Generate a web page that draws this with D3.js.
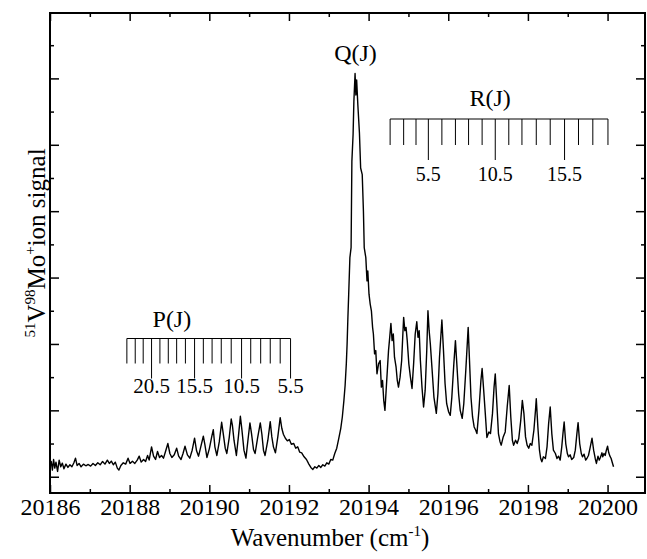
<!DOCTYPE html>
<html>
<head>
<meta charset="utf-8">
<script src="https://cdn.jsdelivr.net/npm/d3@7"></script>
<style>
  body { margin: 0; background: #fff; }
  svg { display: block; font-family: "Liberation Serif", "Times New Roman", serif; }
</style>
</head>
<body>
<div id="chart-area"></div>
<script>
// Axis ticks
const xMajorTicks = [20186, 20188, 20190, 20192, 20194, 20196, 20198, 20200];
const xMinorTicks = [20187, 20189, 20191, 20193, 20195, 20197, 20199];
const yMajorTicks = [0, 2, 4, 6, 8, 10, 12];
const yMinorTicks = [1, 3, 5, 7, 9, 11, 13];

// P branch assignment ruler (J value, line position in cm-1)
const pJ = [23.5, 22.5, 21.5, 20.5, 19.5, 18.5, 17.5, 16.5, 15.5, 14.5, 13.5, 12.5, 11.5, 10.5, 9.5, 8.5, 7.5, 6.5, 5.5];
const pPos = [20187.93, 20188.14, 20188.34, 20188.55, 20188.76, 20188.97, 20189.18, 20189.40, 20189.63, 20189.85,
              20190.07, 20190.30, 20190.55, 20190.81, 20191.04, 20191.29, 20191.53, 20191.78, 20192.04];
const pLabelled = [20.5, 15.5, 10.5, 5.5];

// R branch assignment ruler
const rJ = [2.5, 3.5, 4.5, 5.5, 6.5, 7.5, 8.5, 9.5, 10.5, 11.5, 12.5, 13.5, 14.5, 15.5, 16.5, 17.5, 18.5];
const rPos = [20194.54, 20194.88, 20195.19, 20195.50, 20195.84, 20196.18, 20196.51, 20196.85, 20197.18,
              20197.52, 20197.85, 20198.21, 20198.56, 20198.92, 20199.27, 20199.63, 20200.01];
const rLabelled = [5.5, 10.5, 15.5];

// Spectrum: [wavenumber (cm-1), ion signal (arb. units)]
const spectrum = [
[20186.00,0.30],[20186.03,0.46],[20186.06,0.20],[20186.09,0.52],[20186.12,0.26],[20186.15,0.44],[20186.19,0.16],[20186.23,0.50],
[20186.27,0.30],[20186.31,0.41],[20186.35,0.24],[20186.40,0.38],[20186.45,0.28],[20186.50,0.36],[20186.55,0.30],[20186.60,0.42],
[20186.64,0.56],[20186.68,0.34],[20186.73,0.40],[20186.78,0.30],[20186.84,0.38],[20186.90,0.33],[20186.96,0.37],[20187.02,0.32],
[20187.08,0.40],[20187.14,0.34],[20187.20,0.42],[20187.26,0.36],[20187.32,0.46],[20187.38,0.38],[20187.44,0.50],[20187.49,0.40],
[20187.54,0.47],[20187.59,0.36],[20187.64,0.44],[20187.69,0.26],[20187.73,0.20],[20187.78,0.34],[20187.84,0.42],[20187.90,0.38],
[20187.96,0.56],[20188.01,0.40],[20188.07,0.47],[20188.13,0.40],[20188.19,0.50],[20188.24,0.62],[20188.29,0.44],[20188.35,0.52],
[20188.40,0.46],[20188.45,0.64],[20188.49,0.50],[20188.55,0.90],[20188.60,0.62],[20188.65,0.52],[20188.70,0.76],[20188.75,0.58],
[20188.80,0.64],[20188.85,0.56],[20188.91,0.80],[20188.96,1.00],[20189.01,0.70],[20189.06,0.58],[20189.12,0.66],[20189.18,0.86],
[20189.23,0.62],[20189.29,0.52],[20189.34,0.70],[20189.39,0.92],[20189.45,0.66],[20189.51,0.56],[20189.57,0.80],[20189.63,1.16],
[20189.68,0.78],[20189.73,0.62],[20189.79,0.92],[20189.85,1.22],[20189.89,0.96],[20189.94,0.58],[20190.00,0.84],[20190.06,1.20],
[20190.10,1.42],[20190.14,0.90],[20190.19,0.64],[20190.25,1.05],[20190.31,1.64],[20190.35,1.30],[20190.40,0.86],[20190.44,0.70],
[20190.50,1.18],[20190.55,1.74],[20190.58,1.55],[20190.62,1.10],[20190.68,0.64],[20190.73,1.20],[20190.78,1.82],[20190.82,1.40],
[20190.87,0.80],[20190.92,0.56],[20190.97,1.10],[20191.02,1.62],[20191.06,1.30],[20191.11,0.82],[20191.15,0.70],[20191.21,1.15],
[20191.28,1.62],[20191.32,1.28],[20191.36,0.80],[20191.40,0.64],[20191.47,1.10],[20191.53,1.66],[20191.57,1.20],[20191.61,0.90],
[20191.66,0.72],[20191.72,1.20],[20191.78,1.78],[20191.82,1.46],[20191.86,1.28],[20191.91,1.16],[20191.96,1.08],[20192.01,1.12],
[20192.06,0.98],[20192.12,1.00],[20192.17,0.86],[20192.22,0.90],[20192.27,0.74],[20192.32,0.72],[20192.38,0.60],[20192.44,0.52],
[20192.50,0.38],[20192.55,0.28],[20192.60,0.22],[20192.65,0.30],[20192.70,0.26],[20192.75,0.34],[20192.80,0.28],[20192.85,0.36],
[20192.90,0.32],[20192.95,0.42],[20193.00,0.38],[20193.05,0.52],[20193.10,0.50],[20193.15,0.70],[20193.20,0.86],[20193.25,1.15],
[20193.30,1.45],[20193.34,1.80],[20193.38,2.30],[20193.41,2.75],[20193.44,3.40],[20193.46,4.00],[20193.48,4.80],[20193.50,5.50],
[20193.53,6.60],[20193.56,6.90],[20193.58,9.50],[20193.61,10.30],[20193.63,11.30],[20193.66,12.15],[20193.68,11.50],[20193.70,11.95],
[20193.73,11.20],[20193.77,10.35],[20193.80,9.30],[20193.84,9.10],[20193.87,8.00],[20193.89,6.90],[20193.93,6.60],[20193.96,5.90],
[20193.98,6.20],[20194.01,5.50],[20194.04,5.20],[20194.07,5.00],[20194.10,4.50],[20194.12,4.30],[20194.15,3.70],[20194.18,3.80],
[20194.21,3.10],[20194.25,3.40],[20194.29,3.50],[20194.32,2.70],[20194.35,2.90],[20194.38,2.30],[20194.41,2.00],[20194.44,2.60],
[20194.47,3.20],[20194.50,3.80],[20194.53,4.20],[20194.56,4.62],[20194.59,4.10],[20194.62,4.30],[20194.65,3.60],[20194.69,3.30],
[20194.72,2.90],[20194.75,2.70],[20194.79,3.00],[20194.83,3.50],[20194.86,4.30],[20194.88,4.80],[20194.91,4.40],[20194.94,4.50],
[20194.97,4.10],[20195.01,3.40],[20195.05,3.00],[20195.09,2.66],[20195.13,3.40],[20195.17,4.30],[20195.21,4.67],[20195.24,4.20],
[20195.27,4.40],[20195.30,3.50],[20195.34,2.70],[20195.38,2.10],[20195.42,2.60],[20195.46,3.80],[20195.49,5.00],[20195.52,4.40],
[20195.55,4.00],[20195.59,3.30],[20195.64,2.40],[20195.70,1.91],[20195.74,2.50],[20195.78,3.60],[20195.84,4.72],[20195.88,3.80],
[20195.92,2.80],[20195.96,2.20],[20196.01,1.95],[20196.05,1.85],[20196.09,2.40],[20196.14,3.40],[20196.18,4.10],[20196.22,3.30],
[20196.26,2.50],[20196.30,2.00],[20196.35,1.76],[20196.39,2.20],[20196.44,3.20],[20196.50,4.50],[20196.53,3.60],[20196.57,2.40],
[20196.61,1.80],[20196.65,1.50],[20196.69,1.40],[20196.72,1.30],[20196.77,2.00],[20196.82,2.90],[20196.85,3.26],[20196.89,2.60],
[20196.93,1.90],[20196.97,1.18],[20197.02,1.35],[20197.06,1.30],[20197.11,1.90],[20197.15,2.70],[20197.18,3.10],[20197.22,2.20],
[20197.26,1.30],[20197.30,1.05],[20197.33,0.95],[20197.38,1.20],[20197.43,1.35],[20197.48,2.10],[20197.53,2.75],[20197.57,1.80],
[20197.61,1.10],[20197.64,0.95],[20197.69,1.10],[20197.73,1.00],[20197.77,1.15],[20197.82,1.70],[20197.86,2.30],[20197.90,1.90],
[20197.94,1.20],[20197.98,0.95],[20198.02,0.86],[20198.06,1.00],[20198.10,0.95],[20198.15,1.40],[20198.19,2.00],[20198.21,2.35],
[20198.25,1.50],[20198.29,0.80],[20198.32,0.55],[20198.35,0.45],[20198.39,0.60],[20198.44,0.55],[20198.48,0.90],[20198.52,1.60],
[20198.56,2.10],[20198.60,1.30],[20198.64,0.80],[20198.69,0.70],[20198.73,0.55],[20198.77,0.62],[20198.81,0.50],[20198.85,0.90],
[20198.88,1.30],[20198.91,1.65],[20198.95,1.00],[20198.99,0.70],[20199.02,0.60],[20199.06,0.66],[20199.10,0.52],[20199.15,0.58],
[20199.19,0.80],[20199.23,1.30],[20199.26,1.63],[20199.30,1.00],[20199.34,0.70],[20199.37,0.60],[20199.41,0.68],[20199.45,0.50],
[20199.48,0.55],[20199.52,0.64],[20199.56,0.86],[20199.61,1.16],[20199.65,0.80],[20199.69,0.55],[20199.72,0.40],[20199.76,0.62],
[20199.79,0.50],[20199.82,0.58],[20199.86,0.72],[20199.88,0.60],[20199.91,0.70],[20199.94,0.64],[20199.97,0.80],[20200.00,0.92],
[20200.03,0.72],[20200.06,0.62],[20200.09,0.55],[20200.12,0.42],[20200.15,0.30]
];

// Set up SVG
const W = 647, H = 559;
const plot = { left: 50, right: 645, top: 13, bottom: 493 };

const svg = d3.select("#chart-area")
    .append("svg")
    .attr("width", W)
    .attr("height", H);

// Scales
const x = d3.scaleLinear().domain([20186, 20200.94]).range([plot.left, plot.right]);
const y = d3.scaleLinear().domain([-0.49, 13.97]).range([plot.bottom, plot.top]);

// Ticks on all four sides, pointing inward
function styleAxis(g) {
    g.select(".domain").remove();
    g.selectAll(".tick line").attr("stroke", "#000").attr("stroke-width", 1.5);
}

svg.append("g")
    .attr("transform", "translate(0," + plot.bottom + ")")
    .call(d3.axisBottom(x).tickValues(xMajorTicks).tickSize(-8).tickFormat(d3.format("d")))
    .call(styleAxis)
    .call(g => g.selectAll("text")
        .attr("y", 22).attr("dy", 0)
        .attr("fill", "#000")
        .style("font-family", "Liberation Serif")
        .style("font-size", "24px"));

svg.append("g")
    .attr("transform", "translate(0," + plot.bottom + ")")
    .call(d3.axisBottom(x).tickValues(xMinorTicks).tickSize(-4).tickFormat(""))
    .call(styleAxis);

svg.append("g")
    .attr("transform", "translate(0," + plot.top + ")")
    .call(d3.axisTop(x).tickValues(xMajorTicks).tickSize(-8).tickFormat(""))
    .call(styleAxis);

svg.append("g")
    .attr("transform", "translate(0," + plot.top + ")")
    .call(d3.axisTop(x).tickValues(xMinorTicks).tickSize(-4).tickFormat(""))
    .call(styleAxis);

svg.append("g")
    .attr("transform", "translate(" + plot.left + ",0)")
    .call(d3.axisLeft(y).tickValues(yMajorTicks).tickSize(-9).tickFormat(""))
    .call(styleAxis);

svg.append("g")
    .attr("transform", "translate(" + plot.left + ",0)")
    .call(d3.axisLeft(y).tickValues(yMinorTicks).tickSize(-4).tickFormat(""))
    .call(styleAxis);

svg.append("g")
    .attr("transform", "translate(" + plot.right + ",0)")
    .call(d3.axisRight(y).tickValues(yMajorTicks).tickSize(-9).tickFormat(""))
    .call(styleAxis);

svg.append("g")
    .attr("transform", "translate(" + plot.right + ",0)")
    .call(d3.axisRight(y).tickValues(yMinorTicks).tickSize(-4).tickFormat(""))
    .call(styleAxis);

// Frame
svg.append("rect")
    .attr("x", plot.left)
    .attr("y", plot.top)
    .attr("width", plot.right - plot.left)
    .attr("height", plot.bottom - plot.top)
    .attr("fill", "none")
    .attr("stroke", "#000")
    .attr("stroke-width", 2);

// Spectrum
const line = d3.line()
    .x(d => x(d[0]))
    .y(d => y(d[1]));

svg.append("path")
    .datum(spectrum)
    .attr("d", line)
    .attr("fill", "none")
    .attr("stroke", "#000")
    .attr("stroke-width", 1.4)
    .attr("stroke-linejoin", "round");

// Assignment rulers
function drawRuler(J, pos, labelled, baseY, shortLen, longLen, fontSize, labelY) {
    const g = svg.append("g");
    g.append("line")
        .attr("x1", x(d3.min(pos))).attr("x2", x(d3.max(pos)))
        .attr("y1", baseY).attr("y2", baseY)
        .attr("stroke", "#000").attr("stroke-width", 1.2);
    g.selectAll(".rt")
        .data(J)
        .enter()
        .append("line")
        .attr("x1", (d, i) => x(pos[i]))
        .attr("x2", (d, i) => x(pos[i]))
        .attr("y1", baseY)
        .attr("y2", d => labelled.includes(d) ? baseY + longLen : baseY + shortLen)
        .attr("stroke", "#000")
        .attr("stroke-width", 1);
    g.selectAll(".rl")
        .data(labelled)
        .enter()
        .append("text")
        .attr("x", d => x(pos[J.indexOf(d)]))
        .attr("y", labelY)
        .attr("text-anchor", "middle")
        .style("font-size", fontSize + "px")
        .text(d => d.toFixed(1));
}

drawRuler(pJ, pPos, pLabelled, 338.5, 25, 40, 21, 393);
drawRuler(rJ, rPos, rLabelled, 119, 26, 41, 20, 181);

// Branch labels
svg.append("text").attr("x", x(20189.06)).attr("y", 327)
    .attr("text-anchor", "middle").style("font-size", "24px").text("P(J)");
svg.append("text").attr("x", x(20193.67)).attr("y", 61)
    .attr("text-anchor", "middle").style("font-size", "24px").text("Q(J)");
svg.append("text").attr("x", x(20197.05)).attr("y", 106)
    .attr("text-anchor", "middle").style("font-size", "24px").text("R(J)");

// Axis titles
const xTitle = svg.append("text")
    .attr("x", 330)
    .attr("y", 546)
    .attr("text-anchor", "middle")
    .style("font-size", "25px");
xTitle.append("tspan").text("Wavenumber (cm");
xTitle.append("tspan").attr("dy", -10).style("font-size", "15px").text("-1");
xTitle.append("tspan").attr("dy", 10).text(")");

const yTitle = svg.append("text")
    .attr("transform", "translate(45,243) rotate(-90)")
    .attr("text-anchor", "middle")
    .style("font-size", "25px");
yTitle.append("tspan").attr("dy", -10).style("font-size", "15px").text("51");
yTitle.append("tspan").attr("dy", 10).text("V");
yTitle.append("tspan").attr("dy", -10).style("font-size", "15px").text("98");
yTitle.append("tspan").attr("dy", 10).text("Mo");
yTitle.append("tspan").attr("dy", -10).style("font-size", "15px").text("+");
yTitle.append("tspan").attr("dy", 10).text("ion signal");
</script>
</body>
</html>
